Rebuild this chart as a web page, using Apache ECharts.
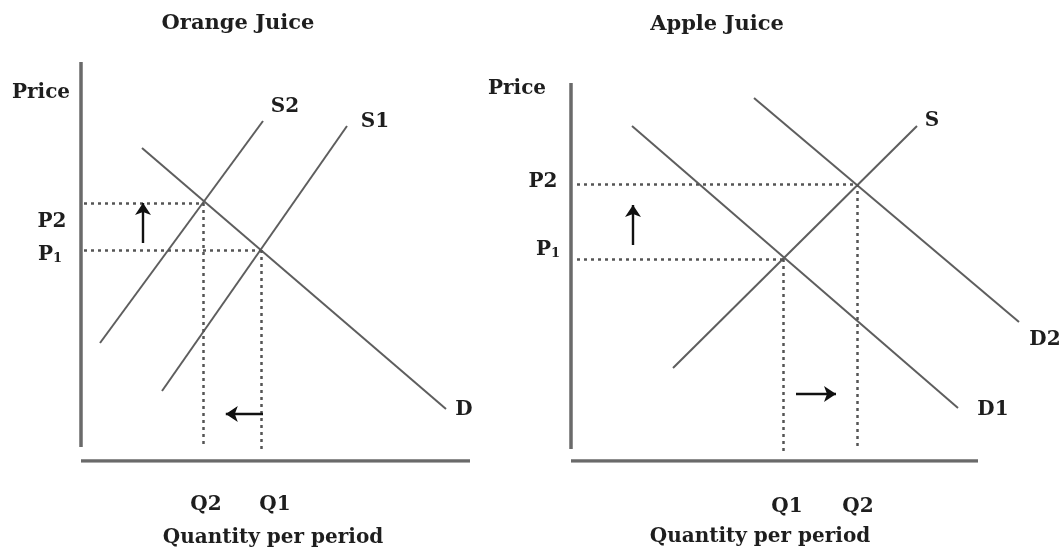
<!DOCTYPE html>
<html>
<head>
<meta charset="utf-8">
<script src="https://cdn.jsdelivr.net/npm/echarts@6/dist/echarts.min.js"></script>
<style>
html,body{margin:0;padding:0;background:#fff;}
#chart{width:1064px;height:554px;}
</style>
</head>
<body>
<div id="chart"></div>
<script>
// ---------- Orange Juice panel (quantity, price) ----------
const ojAxisY = [[0, 3.5], [0, 99.75]];
const ojAxisX = [[0, 0], [97.25, 0]];
const ojS1 = [[20.25, 17.5], [66.5, 83.75]];
const ojS2 = [[4.75, 29.5], [45.5, 85]];
const ojD = [[15.25, 78.25], [91.25, 13]];
const ojEq1 = [45, 52.75];
const ojEq2 = [30.5, 64.5];
const ojEqBottoms = [2, 3.75];
const ojArrowUp = [[15.5, 54.5], [15.5, 64.5]];
const ojArrowLeft = [[45.5, 11.75], [36.2, 11.75]];
const ojLabels = [
  ['Orange Juice', 39.25, 109.25],
  ['Price', -10, 92],
  ['S2', 51, 88.5],
  ['S1', 73.5, 84.75],
  ['D', 95.75, 12.75],
  ['P2', -7.25, 59.75],
  ['P1', -7.75, 51.5],
  ['Q2', 31.25, -11],
  ['Q1', 48.5, -11],
  ['Quantity per period', 48, -19.25]
];

// ---------- Apple Juice panel (quantity, price) ----------
const ajAxisY = [[0, 3], [0, 94.5]];
const ajAxisX = [[0, 0], [101.75, 0]];
const ajS = [[25.5, 23.25], [86.5, 83.75]];
const ajD1 = [[15.25, 83.75], [96.75, 13.25]];
const ajD2 = [[45.75, 90.75], [112, 34.75]];
const ajEq1 = [53, 50.5];
const ajEq2 = [71.5, 69.25];
const ajEqBottoms = [1.5, 3.75];
const ajArrowUp = [[15.5, 54], [15.5, 64]];
const ajArrowRight = [[56.25, 16.75], [66.25, 16.75]];
const ajLabels = [
  ['Apple Juice', 36.5, 109],
  ['Price', -13.5, 93],
  ['S', 90.25, 85],
  ['D1', 105.5, 12.75],
  ['D2', 118.5, 30.25],
  ['P2', -7, 69.75],
  ['P1', -5.75, 52.75],
  ['Q1', 54, -11.5],
  ['Q2', 71.75, -11.5],
  ['Quantity per period', 47.25, -19]
];

const FONT = 'DejaVu Serif';
const TEXT = '#1e1e1e';
const CURVE = '#5e5e5e';
const AXIS = '#6a6a6a';

function seg(gi, coords, style, extra) {
  return Object.assign({
    type: 'lines',
    coordinateSystem: 'cartesian2d',
    xAxisIndex: gi, yAxisIndex: gi,
    silent: true,
    symbol: 'none',
    lineStyle: Object.assign({ color: CURVE, width: 2, opacity: 1 }, style),
    data: [{ coords: coords }],
    z: 2
  }, extra || {});
}
function dashed(gi, eq, bottom, hStart) {
  const st = { color: '#555', width: 2.5, type: [3, 4] };
  return [
    seg(gi, [[hStart, eq[1]], [eq[0], eq[1]]], st),
    seg(gi, [[eq[0], eq[1]], [eq[0], bottom]], st)
  ];
}
function arrow(gi, coords) {
  return seg(gi, coords, { color: '#111', width: 2.4 }, {
    symbol: ['none', 'arrow'], symbolSize: [1, 12]
  });
}
function labels(gi, list) {
  return {
    type: 'scatter', xAxisIndex: gi, yAxisIndex: gi, silent: true, clip: false,
    symbolSize: 1, itemStyle: { color: 'rgba(255,255,255,0)' },
    data: list.map(l => ({ name: l[0], value: [l[1], l[2]] })),
    label: {
      show: true, position: 'inside', color: TEXT, opacity: 1,
      fontFamily: FONT, fontWeight: 'bold', fontSize: 20,
      formatter: p => p.name === 'P1' ? '{a|P}{b|1}' :
        (p.name.indexOf('Juice') >= 0 ? '{t|' + p.name + '}' : p.name),
      rich: {
        a: { fontFamily: FONT, fontWeight: 'bold', fontSize: 20, color: TEXT, verticalAlign: 'bottom' },
        b: { fontFamily: FONT, fontWeight: 'bold', fontSize: 13, color: TEXT, verticalAlign: 'bottom' },
        t: { fontFamily: FONT, fontWeight: 'bold', fontSize: 21, color: TEXT }
      }
    },
    z: 5
  };
}

const hiddenAxis = {
  type: 'value', axisLine: { show: false }, axisTick: { show: false },
  axisLabel: { show: false }, splitLine: { show: false }
};

const series = [
  seg(0, ojAxisY, { color: AXIS, width: 3.5 }),
  seg(0, ojAxisX, { color: AXIS, width: 3.5 }),
  seg(0, ojS1, {}), seg(0, ojS2, {}), seg(0, ojD, {}),
  ...dashed(0, ojEq1, ojEqBottoms[0], 0.75),
  ...dashed(0, ojEq2, ojEqBottoms[1], 0.75),
  arrow(0, ojArrowUp), arrow(0, ojArrowLeft),
  labels(0, ojLabels),

  seg(1, ajAxisY, { color: AXIS, width: 3.5 }),
  seg(1, ajAxisX, { color: AXIS, width: 3.5 }),
  seg(1, ajS, {}), seg(1, ajD1, {}), seg(1, ajD2, {}),
  ...dashed(1, ajEq1, ajEqBottoms[0], 1.5),
  ...dashed(1, ajEq2, ajEqBottoms[1], 1.5),
  arrow(1, ajArrowUp), arrow(1, ajArrowRight),
  labels(1, ajLabels)
];

const chart = echarts.init(document.getElementById('chart'), null, { renderer: 'canvas' });
chart.setOption({
  backgroundColor: '#ffffff',
  animation: false,
  grid: [
    { left: 81, top: 61, width: 400, height: 400 },
    { left: 571, top: 61, width: 480, height: 400 }
  ],
  xAxis: [
    Object.assign({ gridIndex: 0, min: 0, max: 100 }, hiddenAxis),
    Object.assign({ gridIndex: 1, min: 0, max: 120 }, hiddenAxis)
  ],
  yAxis: [
    Object.assign({ gridIndex: 0, min: 0, max: 100 }, hiddenAxis),
    Object.assign({ gridIndex: 1, min: 0, max: 100 }, hiddenAxis)
  ],
  series: series
});
</script>
</body>
</html>
